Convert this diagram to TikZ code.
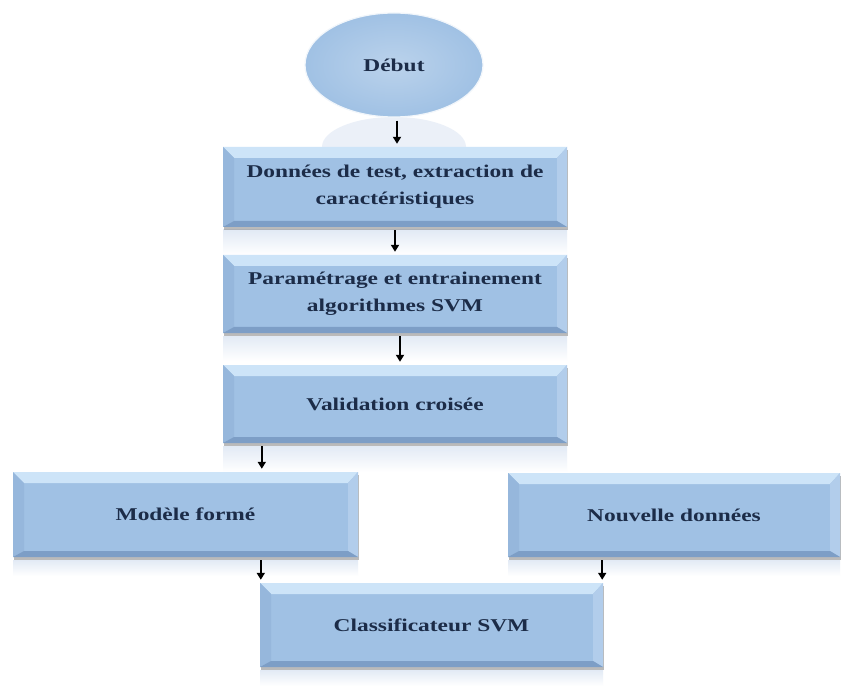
\documentclass[tikz,border=0pt]{standalone}
\usepackage{fontspec}
\setmainfont{Liberation Serif}[FakeStretch=1.3]
\usetikzlibrary{arrows.meta,shapes.geometric,shadows,calc}

\definecolor{face}{RGB}{160,193,228}
\definecolor{bevtop}{RGB}{205,228,248}
\definecolor{bevleft}{RGB}{150,183,220}
\definecolor{bevright}{RGB}{178,205,235}
\definecolor{bevbot}{RGB}{125,158,198}
\definecolor{ink}{RGB}{28,44,72}
\definecolor{refl}{RGB}{226,234,245}

\tikzset{
  x=1pt, y=1pt,
  bevelbox/.style={rectangle, fill=face, text=ink, align=center,
    font=\fontsize{18}{27}\selectfont\bfseries,
    drop shadow={shadow xshift=1pt, shadow yshift=-3pt, fill=black!45, opacity=0.6},
    path picture={
      \coordinate (nw) at (path picture bounding box.north west);
      \coordinate (ne) at (path picture bounding box.north east);
      \coordinate (sw) at (path picture bounding box.south west);
      \coordinate (se) at (path picture bounding box.south east);
      \fill[bevtop] (nw) -- (ne) -- ([xshift=-10pt,yshift=-11pt]ne) -- ([xshift=11pt,yshift=-11pt]nw) -- cycle;
      \fill[bevleft] (nw) -- ([xshift=11pt,yshift=-11pt]nw) -- ([xshift=11pt,yshift=6pt]sw) -- (sw) -- cycle;
      \fill[bevright] (ne) -- ([xshift=-10pt,yshift=-11pt]ne) -- ([xshift=-10pt,yshift=6pt]se) -- (se) -- cycle;
      \fill[bevbot] (sw) -- ([xshift=11pt,yshift=6pt]sw) -- ([xshift=-10pt,yshift=6pt]se) -- (se) -- cycle;
    }},
  startnode/.style={ellipse, minimum width=178pt, minimum height=104pt,
    inner color=face!72!white, outer color=face, draw=white!85!face, line width=1.2pt,
    text=ink, font=\fontsize{18}{22}\selectfont\bfseries},
  flow/.style={-{Triangle[width=8pt,length=7pt]}, line width=2pt, black,
    shorten <=3pt, shorten >=3pt},
  mirror/.style={top color=refl, bottom color=white, draw=none}
}

\begin{document}
\begin{tikzpicture}
\useasboundingbox[fill=white] (0,0) rectangle (842,686);

% faint reflections under each shape
\begin{scope}
  \clip (300,569) rectangle (490,539);
  \fill[refl!70!white] (394,539) ellipse (72 and 30);
\end{scope}
\fill[mirror] (223,456) rectangle (567,431);
\fill[mirror] (223,350) rectangle (567,325);
\fill[mirror] (223,240) rectangle (567,214);
\fill[mirror] (13,126) rectangle (358,110);
\fill[mirror] (508,126) rectangle (840,110);
\fill[mirror] (260,16) rectangle (603,0);

\node[startnode] (debut) at (394,621) {Début};
\node[bevelbox, minimum width=344pt, minimum height=80pt] (d1) at (395,499)
  {Données de test, extraction de\\caractéristiques};
\node[bevelbox, minimum width=344pt, minimum height=78pt] (d2) at (395,392)
  {Paramétrage et entrainement\\algorithmes SVM};
\node[bevelbox, minimum width=344pt, minimum height=78pt] (d3) at (395,282)
  {Validation croisée};
\node[bevelbox, minimum width=345pt, minimum height=85pt] (modele) at (185.5,171.5)
  {Modèle formé};
\node[bevelbox, minimum width=332pt, minimum height=84pt] (nouv) at (674,171)
  {Nouvelle données};
\node[bevelbox, minimum width=343pt, minimum height=84pt] (classif) at (431.5,61)
  {Classificateur SVM};

\draw[flow] ([xshift=3pt]debut.south) -- ([xshift=3pt]debut.south |- d1.north);
\draw[flow] (d1.south) -- (d2.north);
\draw[flow] ([xshift=5pt]d2.south) -- ([xshift=5pt]d2.south |- d3.north);
\draw[flow] ([xshift=39pt]d3.south west) -- ([xshift=39pt]d3.south west |- modele.north);
\draw[flow] ([xshift=1pt]classif.north west |- modele.south) -- ([xshift=1pt]classif.north west);
\draw[flow] ([xshift=-1pt]classif.north east |- nouv.south) -- ([xshift=-1pt]classif.north east);
\end{tikzpicture}
\end{document}
